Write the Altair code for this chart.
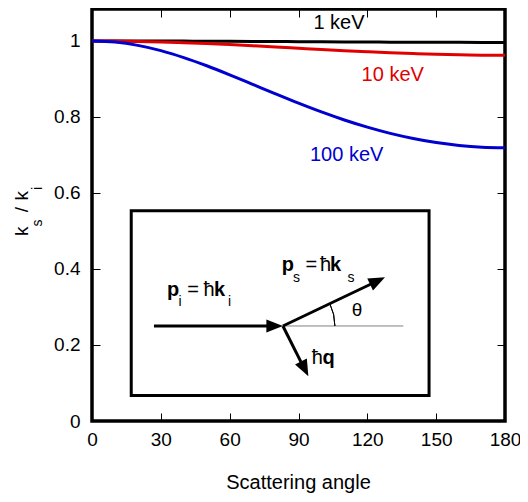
import altair as alt
import pandas as pd

# ---- data ----
angles = [0, 10, 20, 30, 40, 50, 60, 70, 80, 90, 100, 110, 120, 130, 140, 150, 160, 170, 180]
k_1keV = [1.0, 1.0, 0.9999, 0.9997, 0.9995, 0.9993, 0.9990, 0.9987, 0.9984, 0.9980,
          0.9977, 0.9974, 0.9971, 0.9968, 0.9966, 0.9964, 0.9962, 0.9961, 0.9961]
k_10keV = [1.0, 0.9997, 0.9988, 0.9974, 0.9954, 0.9931, 0.9903, 0.9873, 0.9841, 0.9808,
           0.9775, 0.9744, 0.9715, 0.9689, 0.9666, 0.9647, 0.9634, 0.9626, 0.9623]
k_100keV = [1.0, 0.9970, 0.9883, 0.9745, 0.9562, 0.9347, 0.9109, 0.8859, 0.8608, 0.8363,
            0.8132, 0.7920, 0.7731, 0.7567, 0.7432, 0.7325, 0.7248, 0.7202, 0.7187]
series_names = ["1 keV", "10 keV", "100 keV"]
series_colors = ["#000000", "#e00000", "#0000d0"]

x_ticks = [0, 30, 60, 90, 120, 150, 180]
y_ticks = [0, 0.2, 0.4, 0.6, 0.8, 1]
X_DOMAIN = [0, 180]
Y_DOMAIN = [0, 1.084]

curve_label_x = [96.5, 117.5, 95.0]
curve_label_y = [1.0316, 0.8955, 0.685]

x_title = ["Scattering angle"]
x_title_pos = [90, -0.179]

ytitle_text = ["k", "s", "/", "k", "i"]
ytitle_x = [-27.8, -22.0, -27.8, -27.8, -22.0]
ytitle_y = [0.487, 0.512, 0.549, 0.580, 0.608]
ytitle_size = [19, 14, 19, 19, 14]

# inset diagram
box_x = [17.1, 146.9]
box_y = [0.067, 0.553]
origin = [83.2, 0.25]
shaft_x = [27.0, 83.2, 83.2]
shaft_y = [0.25, 0.25, 0.25]
shaft_x2 = [80.0, 124.6, 92.7]
shaft_y2 = [0.25, 0.369, 0.136]
guide_x2 = 135.7
head_x = [83.2, 127.7, 94.3]
head_y = [0.25, 0.378, 0.118]
head_angle = [0, 334.3, 63.3]

bold_text = ["p", "k", "p", "k", "q"]
bold_x = [32.7, 53.2, 82.7, 103.7, 100.5]
bold_y = [0.329, 0.329, 0.394, 0.394, 0.150]
reg_text = ["=", "ħ", "=", "ħ", "ħ"]
reg_x = [41.5, 48.6, 93.0, 99.4, 95.8]
reg_y = [0.329, 0.329, 0.394, 0.394, 0.150]
sub_text = ["i", "i", "s", "s"]
sub_x = [37.7, 59.3, 87.6, 111.4]
sub_y = [0.3026, 0.3026, 0.366, 0.366]
theta_pos = [115.5, 0.292]

FONT = "Liberation Sans"


def xs():
    return alt.Scale(domain=X_DOMAIN, nice=False, zero=False)


def ys():
    return alt.Scale(domain=Y_DOMAIN, nice=False, zero=False)


def X(field, axis=None):
    return alt.X(field, type="quantitative", scale=xs(), axis=axis)


def Y(field, axis=None):
    return alt.Y(field, type="quantitative", scale=ys(), axis=axis)


rows = []
for name, vals in zip(series_names, [k_1keV, k_10keV, k_100keV]):
    for a, v in zip(angles, vals):
        rows.append({"angle": a, "k": v, "series": name})
curves_df = pd.DataFrame(rows)

axis_common = dict(tickSize=8, offset=-8, domain=False, grid=False, title=None,
                   tickColor="black", tickWidth=1, labelFont=FONT, labelFontSize=19,
                   labelColor="black", labelFlush=False)

curves = alt.Chart(curves_df).mark_line(strokeWidth=3, interpolate="monotone").encode(
    x=X("angle", alt.Axis(orient="bottom", values=x_ticks, labelPadding=9, **axis_common)),
    y=Y("k", alt.Axis(orient="left", values=y_ticks, format="~g", labelPadding=12, **axis_common)),
    color=alt.Color("series:N", scale=alt.Scale(domain=series_names, range=series_colors), legend=None),
)

box_df = pd.DataFrame({"x0": [box_x[0]], "x1": [box_x[1]], "y0": [box_y[0]], "y1": [box_y[1]]})
box = alt.Chart(box_df).mark_rect(fill="white", stroke="black", strokeWidth=3).encode(
    x=X("x0", alt.Axis(orient="top", values=x_ticks, labels=False, **axis_common)),
    x2="x1:Q",
    y=Y("y0", alt.Axis(orient="right", values=y_ticks, labels=False, **axis_common)),
    y2="y1:Q",
)

guide_df = pd.DataFrame({"x": [origin[0]], "y": [origin[1]], "x2": [guide_x2], "y2": [origin[1]]})
guide = alt.Chart(guide_df).mark_rule(color="#808080", strokeWidth=1).encode(
    x=X("x"), y=Y("y"), x2="x2:Q", y2="y2:Q")

shaft_df = pd.DataFrame({"x": shaft_x, "y": shaft_y, "x2": shaft_x2, "y2": shaft_y2})
shafts = alt.Chart(shaft_df).mark_rule(color="black", strokeWidth=3).encode(
    x=X("x"), y=Y("y"), x2="x2:Q", y2="y2:Q")

head_df = pd.DataFrame({"x": head_x, "y": head_y, "a": head_angle})
heads = alt.Chart(head_df).mark_point(
    shape="M0,0 L-2,-0.8 L-2,0.8 Z", size=272, filled=True, opacity=1,
    color="black", strokeWidth=0).encode(
    x=X("x"), y=Y("y"), angle=alt.Angle("a:Q", scale=None))

arc_df = pd.DataFrame({"x": [origin[0]], "y": [origin[1]]})
arc = alt.Chart(arc_df).mark_arc(radius=52, radius2=52, theta=1.122, theta2=1.5708,
                                 filled=False, stroke="black", strokeWidth=1).encode(
    x=X("x"), y=Y("y"))


def text_layer(texts, xv, yv, **kw):
    df = pd.DataFrame({"x": xv, "y": yv, "t": texts})
    return alt.Chart(df).mark_text(font=FONT, **kw).encode(x=X("x"), y=Y("y"), text="t:N")


bold = text_layer(bold_text, bold_x, bold_y, fontSize=20, fontWeight="bold", align="left",
                  baseline="alphabetic", color="black")
reg = text_layer(reg_text, reg_x, reg_y, fontSize=20, align="left", baseline="alphabetic", color="black")
sub = text_layer(sub_text, sub_x, sub_y, fontSize=14, align="left", baseline="alphabetic", color="black")
theta = text_layer(["θ"], [theta_pos[0]], [theta_pos[1]], fontSize=19, align="center",
                   baseline="middle", color="black")

lab_df = pd.DataFrame({"x": curve_label_x, "y": curve_label_y, "t": series_names, "c": series_colors})
labels = alt.Chart(lab_df).mark_text(font=FONT, fontSize=20, align="left", baseline="alphabetic").encode(
    x=X("x"), y=Y("y"), text="t:N", color=alt.Color("c:N", scale=None))

xt = text_layer(x_title, [x_title_pos[0]], [x_title_pos[1]], fontSize=20, align="center",
                baseline="alphabetic", color="black")

yt_df = pd.DataFrame({"x": ytitle_x, "y": ytitle_y, "t": ytitle_text, "s": ytitle_size})
yt = alt.Chart(yt_df).mark_text(font=FONT, angle=270, align="left", baseline="alphabetic",
                                color="black").encode(
    x=X("x"), y=Y("y"), text="t:N", size=alt.Size("s:Q", scale=None))

chart = alt.layer(curves, box, guide, shafts, heads, arc, bold, reg, sub, theta, labels, xt, yt).resolve_axis(
    x="independent", y="independent"
).properties(
    width=413, height=412,
    autosize=alt.AutoSizeParams(type="none"),
    padding={"left": 84, "top": 1, "right": 15, "bottom": 73},
    background="white",
).configure_view(stroke="black", strokeWidth=3.5)

chart.save("out.html", embed_options={"renderer": "svg", "actions": False})
